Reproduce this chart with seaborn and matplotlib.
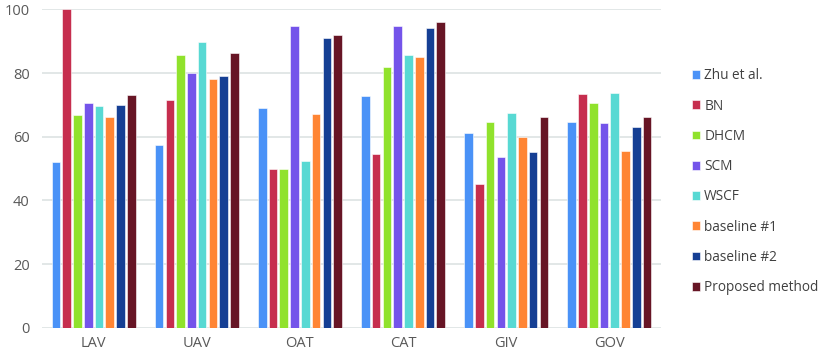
import matplotlib
matplotlib.use("Agg")
import matplotlib.pyplot as plt
import seaborn as sns
import pandas as pd

categories = ["LAV", "UAV", "OAT", "CAT", "GIV", "GOV"]
methods = ["Zhu et al.", "BN", "DHCM", "SCM", "WSCF", "baseline #1", "baseline #2", "Proposed method"]
zhu = [52.0, 57.5, 69.1, 72.8, 61.3, 64.5]
bn = [100.0, 71.5, 49.9, 54.5, 45.2, 73.5]
dhcm = [66.7, 85.8, 49.9, 81.9, 64.5, 70.6]
scm = [70.5, 80.1, 94.8, 94.8, 53.7, 64.2]
wscf = [69.7, 89.7, 52.4, 85.7, 67.5, 73.7]
base1 = [66.1, 78.0, 67.0, 85.0, 60.0, 55.5]
base2 = [70.1, 79.1, 91.0, 94.0, 55.1, 63.0]
proposed = [73.0, 86.2, 92.1, 96.0, 66.1, 66.1]
series = [zhu, bn, dhcm, scm, wscf, base1, base2, proposed]
colors = ["#4a92f7", "#c62e4e", "#90e22c", "#7454ea", "#58d9d3", "#ff8534", "#153f94", "#671525"]

rows = []
for m, vals in zip(methods, series):
    for c, v in zip(categories, vals):
        rows.append({"category": c, "method": m, "value": v})
df = pd.DataFrame(rows)

sns.set_theme(style="white")
plt.rcParams['font.family'] = ['Open Sans', 'DejaVu Sans']

fig = plt.figure(figsize=(8.3, 3.61), dpi=100)
ax = fig.add_axes([42/830, 1 - 327.7/361, (661-42)/830, (327.7-9.4)/361])
sns.barplot(data=df, x="category", y="value", hue="method", hue_order=methods,
            order=categories, palette=colors, saturation=1, width=0.835, gap=0.2,
            edgecolor="white", linewidth=0.4, ax=ax, legend=True)
ax.set_ylim(0, 100)
ax.set_xlim(-0.5, 5.5)
ax.set_yticks([0, 20, 40, 60, 80, 100])
ax.set_xlabel("")
ax.set_ylabel("")
for s in ax.spines.values():
    s.set_visible(False)
ax.yaxis.grid(True, color="#dde3e3", linewidth=1.2)
ax.set_axisbelow(True)
ax.tick_params(axis="both", colors="#595959", labelsize=10.5, length=0)
ax.tick_params(axis="y", pad=9)
ax.tick_params(axis="x", pad=6)
leg = ax.legend(loc="upper left", bbox_to_anchor=(1.05, 0.815), frameon=False,
                borderpad=0, borderaxespad=0,
                handlelength=0.6, handleheight=0.6, handletextpad=0.3,
                labelspacing=1.12, fontsize=9.8)
for t in leg.get_texts():
    t.set_color("#404040")
fig.savefig("out.png", dpi=100)
